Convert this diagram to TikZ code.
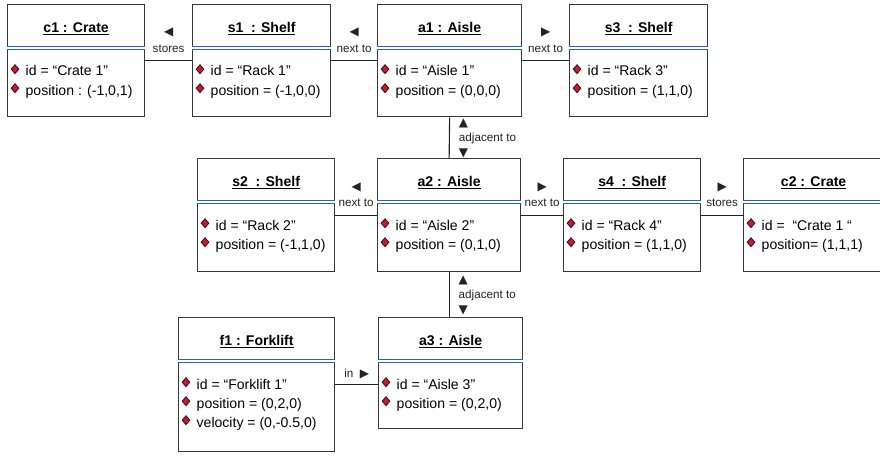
\documentclass[tikz,border=0pt]{standalone}
\usepackage{xcolor}
\usepackage{fontspec}
\setmainfont{Liberation Sans}
\newfontfamily\dejavu{DejaVu Sans}
\usepackage{tikz}
\usetikzlibrary{shapes.geometric, positioning, calc}
\definecolor{boxline}{RGB}{55,55,55}
\definecolor{linkdark}{RGB}{35,35,35}
\definecolor{sepblue}{RGB}{40,100,180}
\definecolor{iconred}{RGB}{190,30,50}
\definecolor{icondark}{RGB}{70,10,20}
\tikzset{
  objbox/.style={rectangle, draw=boxline, fill=white, anchor=north west,
    line width=0.9pt, inner sep=0pt},
  objtitle/.style={anchor=base, inner sep=0pt,
    font=\fontsize{10}{12}\selectfont\bfseries},
  objattr/.style={anchor=base west, inner sep=0pt,
    font=\fontsize{10}{12}\selectfont},
  sepline/.style={draw=sepblue, line width=0.65pt, double=white,
    double distance=1.4pt},
  attricon/.style={diamond, draw=icondark, fill=iconred, line width=0.6pt,
    minimum width=0.2cm, minimum height=0.23cm, inner sep=0pt},
  link/.style={draw=linkdark, line width=0.8pt},
  lbl/.style={inner sep=0pt, text depth=0pt, text=linkdark,
    font=\fontsize{8.3}{11.5}\selectfont}
}
\newcommand{\dirsym}[1]{{\fontsize{8.5}{8.5}\dejavu #1}}
% object box: name, north west corner, width, height, title, attributes
\newcommand{\umlobject}[6]{%
  \node[objbox, minimum width=#3cm, minimum height=#4cm] (#1) at #2 {};
  \node[objtitle] (#1-t) at ($(#1.north)+(0,-0.71)$) {\underline{#5}};
  \draw[sepline] ($(#1.north west)+(0,-1.1)$) -- ($(#1.north east)+(0,-1.1)$);
  \foreach \a [count=\i] in {#6} {
    \node[attricon] (#1-i\i) at ($(#1.north west)+(0.2,{-1.63-0.475*(\i-1)})$) {};
    \node[objattr] (#1-a\i) at ($(#1.north west)+(0.46,{-1.8-0.475*(\i-1)})$) {\a};
  }%
}

\begin{document}
\begin{tikzpicture}
  \useasboundingbox (0,0) rectangle (22,-11.375);

  % Top row
  \umlobject{c1}{(0.175,-0.1)}{3.425}{2.8}{c1 : Crate}{{id = “Crate 1”},{position : (-1,0,1)}}
  \umlobject{s1}{(4.8,-0.1)}{3.45}{2.8}{s1\ \ : Shelf}{{id = “Rack 1”},{position = (-1,0,0)}}
  \umlobject{a1}{(9.425,-0.1)}{3.6}{2.8}{a1 : Aisle}{{id = “Aisle 1”},{position = (0,0,0)}}
  \umlobject{s3}{(14.225,-0.1)}{3.45}{2.8}{s3\ \ : Shelf}{{id = “Rack 3”},{position = (1,1,0)}}

  % Middle row
  \umlobject{s2}{(4.925,-3.95)}{3.425}{2.825}{s2\ \ : Shelf}{{id = “Rack 2”},{position = (-1,1,0)}}
  \umlobject{a2}{(9.425,-3.95)}{3.575}{2.825}{a2 : Aisle}{{id = “Aisle 2”},{position = (0,1,0)}}
  \umlobject{s4}{(14.075,-3.95)}{3.425}{2.825}{s4\ \ : Shelf}{{id = “Rack 4”},{position = (1,1,0)}}
  \umlobject{c2}{(18.575,-3.95)}{3.5}{2.825}{c2 : Crate}{{id =\ \ “Crate 1 “},{position= (1,1,1)}}

  % Bottom row
  \umlobject{f1}{(4.45,-7.925)}{3.9}{3.35}{f1 : Forklift}{{id = “Forklift 1”},{position = (0,2,0)},{velocity = (0,-0.5,0)}}
  \umlobject{a3}{(9.45,-7.925)}{3.6}{2.775}{a3 : Aisle}{{id = “Aisle 3”},{position = (0,2,0)}}

  % Links
  \draw[link] (c1.east) -- node[lbl, above=0.2cm, align=center] (l1) {\dirsym{◀}\\stores} (s1.west);
  \draw[link] (s1.east) -- node[lbl, above=0.2cm, align=center] (l2) {\dirsym{◀}\\next to} (a1.west);
  \draw[link] (a1.east) -- node[lbl, above=0.2cm, align=center] (l3) {\dirsym{▶}\\next to} (s3.west);
  \draw[link] (a1.south) -- node[lbl, right=0.225cm, align=left, font=\fontsize{8.3}{10.5}\selectfont] (l4) {\dirsym{▲}\\adjacent to\\\dirsym{▼}} (a2.north);
  \draw[link] (s2.east) -- node[lbl, above=0.2cm, align=center] (l5) {\dirsym{◀}\\next to} (a2.west);
  \draw[link] (a2.east) -- node[lbl, above=0.2cm, align=center] (l6) {\dirsym{▶}\\next to} (s4.west);
  \draw[link] (s4.east) -- node[lbl, above=0.2cm, align=center] (l7) {\dirsym{▶}\\stores} (c2.west);
  \draw[link] (a2.south) -- node[lbl, right=0.225cm, align=left, font=\fontsize{8.3}{10.5}\selectfont] (l8) {\dirsym{▲}\\adjacent to\\\dirsym{▼}} (a2.south |- a3.north);
  \draw[link] (f1.east) -- node[lbl, above=0.175cm] (l9) {in\ \ \dirsym{▶}} (f1.east -| a3.west);
\end{tikzpicture}
\end{document}
